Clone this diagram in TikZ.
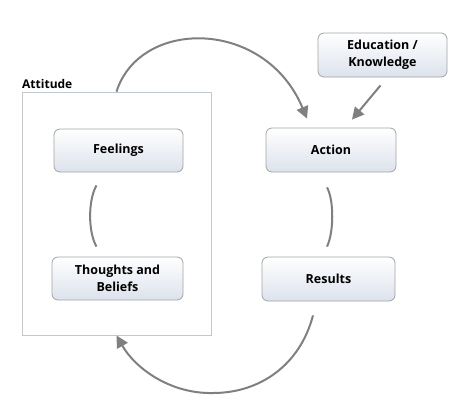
\documentclass[tikz,border=0pt]{standalone}
\usepackage{fontspec}
\setmainfont{Open Sans}
\usetikzlibrary{arrows.meta}
\definecolor{arrgray}{HTML}{808080}
\definecolor{boxedge}{HTML}{A3A3A3}
\definecolor{boxbot}{HTML}{DCE2EC}
\definecolor{attedge}{HTML}{C2C8CF}
\begin{document}
\begin{tikzpicture}[x=1pt,y=-1pt,
  card/.style={draw=boxedge,line width=0.8pt,rounded corners=6pt,top color=white,bottom color=boxbot,
    minimum height=43pt,inner sep=0pt,align=center,font=\fontsize{12.5}{17}\selectfont\bfseries},
  conn/.style={draw=arrgray,line width=2pt},
  arr/.style={conn,-{Triangle[length=12pt,width=12pt]}}]
\useasboundingbox (0,0) rectangle (471,416);
\node[draw=attedge,line width=0.8pt,minimum width=189pt,minimum height=243pt,inner sep=0pt] (att) at (116.5,213.5) {};
\node[anchor=base west,inner sep=0pt,font=\fontsize{12}{14}\selectfont\bfseries] (attlbl) at (22,88.5) {Attitude};
\node[card,minimum width=129pt] (feel) at (118.5,150.5) {Feelings};
\node[card,minimum width=131pt] (thou) at (117.5,278.5) {Thoughts and\\Beliefs};
\node[card,minimum width=130pt,minimum height=44pt] (action) at (331,150) {Action};
\node[card,minimum width=129pt,minimum height=44pt] (edu) at (382.5,55) {Education /\\Knowledge};
\node[card,minimum width=133pt,minimum height=44pt] (res) at (328.5,279) {Results};
% arcs
\draw[conn] ([shift={(-22,13)}]feel.south) .. controls (88,200) and (88,232) .. ([shift={(-21,-10)}]thou.north);
\draw[conn] ([shift={(-4,15)}]action.south) .. controls (334,200) and (334,232) .. ([shift={(-1.5,-10)}]res.north);
% arrows
\draw[arr] (att.north) .. controls (140,18) and (265,18) .. ([shift={(-24,-9)}]action.north);
\draw[arr] ([shift={(-2,8)}]edu.south) -- ([shift={(21,-8)}]action.north);
\draw[arr] ([shift={(-15.5,14)}]res.south) .. controls (300,365) and (260,393) .. (213,393) .. controls (170,394) and (135,368) .. (att.south);
\end{tikzpicture}
\end{document}
